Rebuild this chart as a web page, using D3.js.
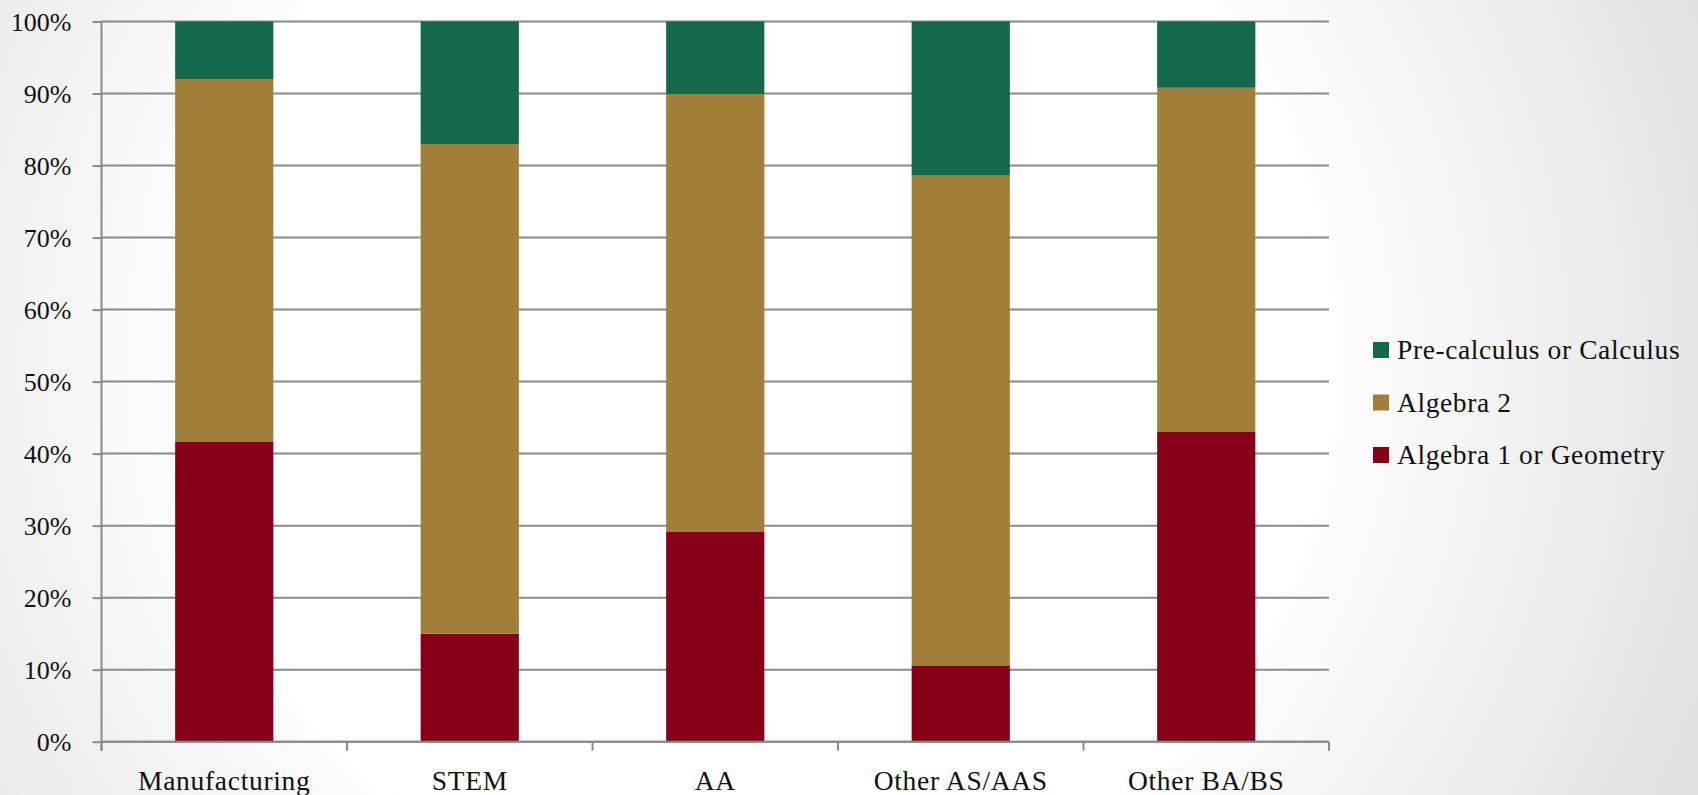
<!DOCTYPE html>
<html>
<head>
<meta charset="utf-8">
<script src="https://cdn.jsdelivr.net/npm/d3@7"></script>
<style>
  html, body { margin: 0; padding: 0; }
  body { width: 1698px; height: 795px; overflow: hidden; }
  svg { display: block; }
  text { font-family: "Liberation Serif", "Times New Roman", serif; fill: #111; }
</style>
</head>
<body>
<svg id="chart" width="1698" height="795"></svg>
<script>
// Highest math course completed, share of students by program
const categories = ["Manufacturing", "STEM", "AA", "Other AS/AAS", "Other BA/BS"];
const algebra1Geometry = [41.7, 15.0, 29.2, 10.6, 43.0];
const algebra2 = [50.3, 68.0, 60.7, 68.0, 47.8];
const precalcCalculus = [8.0, 17.0, 10.1, 21.4, 9.2];
const seriesNames = ["Algebra 1 or Geometry", "Algebra 2", "Pre-calculus or Calculus"];
const seriesColors = ["#870019", "#A17F39", "#13694A"];
const yTicks = [0, 10, 20, 30, 40, 50, 60, 70, 80, 90, 100];

const W = 1698, H = 795;
const plot = { left: 101.5, right: 1329, top: 21.5, bottom: 741.7 };

const svg = d3.select("#chart");

// Soft radial backdrop
const defs = svg.append("defs");
const grad = defs.append("radialGradient")
  .attr("id", "bg").attr("gradientUnits", "userSpaceOnUse")
  .attr("cx", 760).attr("cy", 360).attr("r", 1000);
grad.append("stop").attr("offset", "0%").attr("stop-color", "#ffffff");
grad.append("stop").attr("offset", "55%").attr("stop-color", "#ffffff");
grad.append("stop").attr("offset", "100%").attr("stop-color", "#e2e2e2");
svg.append("rect").attr("width", W).attr("height", H).attr("fill", "url(#bg)");

const rows = categories.map((c, i) => ({
  category: c,
  [seriesNames[0]]: algebra1Geometry[i],
  [seriesNames[1]]: algebra2[i],
  [seriesNames[2]]: precalcCalculus[i]
}));

const x = d3.scaleBand()
  .domain(categories)
  .range([plot.left, plot.right])
  .paddingInner(0.6)
  .paddingOuter(0.3);

const y = d3.scaleLinear().domain([0, 100]).range([plot.bottom, plot.top]);

const gridColor = "#8a8a8a";

// Horizontal gridlines and y axis
const yAxis = d3.axisLeft(y)
  .tickValues(yTicks)
  .tickFormat(d => d + "%")
  .tickSize(9)
  .tickPadding(21);
const gy = svg.append("g").attr("transform", `translate(${plot.left},0)`).call(yAxis);
gy.select(".domain").remove();
gy.selectAll(".tick line").attr("stroke", gridColor).attr("stroke-width", 2);
gy.selectAll(".tick text")
  .style("font-size", "26px")
  .attr("dy", "0.34em");

svg.append("g").selectAll("line").data(yTicks).join("line")
  .attr("x1", plot.left).attr("x2", plot.right)
  .attr("y1", d => y(d)).attr("y2", d => y(d))
  .attr("stroke", gridColor).attr("stroke-width", 2);

// Stacked bars
const stack = d3.stack().keys(seriesNames);
const layers = stack(rows);
svg.append("g").selectAll("g").data(layers).join("g")
  .attr("fill", (d, i) => seriesColors[i])
  .selectAll("rect").data(d => d).join("rect")
  .attr("x", d => x(d.data.category))
  .attr("width", x.bandwidth())
  .attr("y", d => y(d[1]))
  .attr("height", d => y(d[0]) - y(d[1]));

// Axis lines drawn on top
svg.append("line")
  .attr("x1", plot.left).attr("x2", plot.left)
  .attr("y1", plot.top).attr("y2", plot.bottom + 9)
  .attr("stroke", gridColor).attr("stroke-width", 2);

// Category boundary ticks along the bottom
const step = x.step();
const boundaries = d3.range(categories.length + 1).map(i => plot.left + i * step);
svg.append("g").selectAll("line").data(boundaries).join("line")
  .attr("x1", d => d).attr("x2", d => d)
  .attr("y1", plot.bottom).attr("y2", plot.bottom + 9)
  .attr("stroke", gridColor).attr("stroke-width", 2);
svg.append("line")
  .attr("x1", plot.left).attr("x2", plot.right)
  .attr("y1", plot.bottom).attr("y2", plot.bottom)
  .attr("stroke", gridColor).attr("stroke-width", 2);

// Category labels
const xAxis = d3.axisBottom(x).tickSize(0).tickPadding(0);
const gx = svg.append("g").attr("transform", `translate(0,${plot.bottom})`).call(xAxis);
gx.select(".domain").remove();
gx.selectAll(".tick text")
  .style("font-size", "27.5px")
  .style("letter-spacing", "0.7px")
  .attr("y", 48)
  .attr("dy", "0");

// Legend, top entry is the top of the stack
const legendItems = seriesNames.map((n, i) => ({ name: n, color: seriesColors[i] })).reverse();
const legend = svg.append("g").attr("transform", "translate(1373,350)");
const li = legend.selectAll("g").data(legendItems).join("g")
  .attr("transform", (d, i) => `translate(0,${i * 52.5})`);
li.append("rect").attr("x", 0).attr("y", -8).attr("width", 16).attr("height", 16)
  .attr("fill", d => d.color);
li.append("text").attr("x", 24).attr("y", 0).attr("dy", "0.34em")
  .style("font-size", "27.5px")
  .style("letter-spacing", "0.6px")
  .text(d => d.name);
</script>
</body>
</html>
